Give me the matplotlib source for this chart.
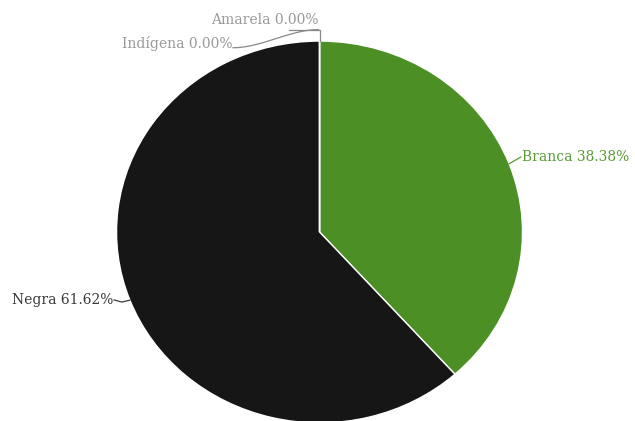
import numpy as np
import matplotlib
matplotlib.use("Agg")
from matplotlib import pyplot as plt

# dados
categorias = ["Branca", "Negra", "Indígena", "Amarela"]
valores = [38.38, 61.62, 0.0, 0.0]
cores = ["#4b8f25", "#161616", "#a0a0a0", "#a0a0a0"]
cores_texto = ["#5a9a35", "#3a3a3a", "#999999", "#999999"]

plt.rcParams['font.family'] = ['DejaVu Serif']

fig = plt.figure(figsize=(6.35, 4.21), dpi=100)
ax = fig.add_axes([0, 0, 1, 1])

wedges, _ = ax.pie(valores, startangle=90, counterclock=False, colors=cores,
                   wedgeprops=dict(edgecolor="white", linewidth=1))

# eixo sem proporção igual (o gráfico original é levemente achatado)
ax.set_aspect("auto")
ax.set_xlim(-1.574, 1.554)
ax.set_ylim(-0.99, 1.215)
ax.axis("off")

# posições dos rótulos
pos_texto = {
    "Branca": (0.997, 0.393, "left"),
    "Negra": (-1.017, -0.356, "right"),
    "Indígena": (-0.431, 0.985, "right"),
    "Amarela": (-0.007, 1.11, "right"),
}

for w, cat, val, ct in zip(wedges, categorias, valores, cores_texto):
    ang = np.deg2rad((w.theta1 + w.theta2) / 2)
    x0, y0 = np.cos(ang), np.sin(ang)
    tx, ty, ha = pos_texto[cat]
    ax.text(tx, ty, f"{cat} {val:.2f}%", ha=ha, va="center", fontsize=10, color=ct)
    if cat == "Branca":
        ax.plot([x0, tx - 0.005], [y0, ty], color=ct, lw=0.9)
    elif cat == "Negra":
        ax.plot([x0, x0 - 0.04, tx + 0.005], [y0, y0 - 0.01, ty], color="#3a3a3a", lw=0.9)
    elif cat == "Amarela":
        ax.plot([x0, x0, -0.15], [y0, 1.06, 1.06], color="#888888", lw=0.9)
    else:
        xs = np.linspace(tx + 0.005, -0.005, 40)
        t = (xs - xs[0]) / (xs[-1] - xs[0])
        ys = ty - 0.02 + (1.06 - ty + 0.02) * (3 * t**2 - 2 * t**3)
        ax.plot(xs, ys, color="#888888", lw=0.9)

fig.savefig("out.png", dpi=100)
